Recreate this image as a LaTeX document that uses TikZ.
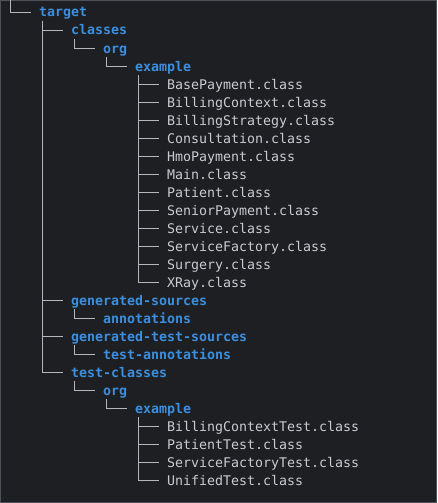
\documentclass[tikz,border=0pt]{standalone}
\usepackage{fontspec}
\newfontfamily\codefont{DejaVu Sans Mono}
\definecolor{bg}{HTML}{1E1F22}
\definecolor{frame}{HTML}{4E5157}
\definecolor{dirc}{HTML}{3D8EDC}
\definecolor{filec}{HTML}{C8CBD0}
\definecolor{linec}{HTML}{B4B7BC}
\begin{document}
\begin{tikzpicture}[x=1pt,y=-1pt,
  entry/.style={anchor=west,inner sep=0pt,outer sep=0pt,text height=13pt,text depth=3pt,
    font=\codefont\fontsize{13.3}{16}\selectfont},
  dir/.style={entry,text=dirc,font=\codefont\bfseries\fontsize{13.3}{16}\selectfont},
  file/.style={entry,text=filec},
  tree/.style={draw=linec,line width=0.9pt}]
\fill[bg] (0,0) rectangle (437,503);
\useasboundingbox (0,0) rectangle (437,503);
\draw[frame,line width=1pt] (0.5,0.5) rectangle (436.5,502.5);
\coordinate (root) at (10,0);
% nodes: x positions 39,71,103,135,167 ; row pitch 18 starting 12
\node[dir] (target) at (39,12) {target};
\node[dir] (classes) at (71,30) {classes};
\node[dir] (org1) at (103,48) {org};
\node[dir] (ex1) at (135,66) {example};
\node[file] (f1) at (167,84) {BasePayment.class};
\node[file] (f2) at (167,102) {BillingContext.class};
\node[file] (f3) at (167,120) {BillingStrategy.class};
\node[file] (f4) at (167,138) {Consultation.class};
\node[file] (f5) at (167,156) {HmoPayment.class};
\node[file] (f6) at (167,174) {Main.class};
\node[file] (f7) at (167,192) {Patient.class};
\node[file] (f8) at (167,210) {SeniorPayment.class};
\node[file] (f9) at (167,228) {Service.class};
\node[file] (f10) at (167,246) {ServiceFactory.class};
\node[file] (f11) at (167,264) {Surgery.class};
\node[file] (f12) at (167,282) {XRay.class};
\node[dir] (gens) at (71,300) {generated-sources};
\node[dir] (ann) at (103,318) {annotations};
\node[dir] (gents) at (71,336) {generated-test-sources};
\node[dir] (tann) at (103,354) {test-annotations};
\node[dir] (tcls) at (71,372) {test-classes};
\node[dir] (org2) at (103,390) {org};
\node[dir] (ex2) at (135,408) {example};
\node[file] (t1) at (167,426) {BillingContextTest.class};
\node[file] (t2) at (167,444) {PatientTest.class};
\node[file] (t3) at (167,462) {ServiceFactoryTest.class};
\node[file] (t4) at (167,480) {UnifiedTest.class};
% connectors
\draw[tree] (root) |- ([xshift=-8.5pt]target.west);
\foreach \c in {classes,gens,gents,tcls}
  \draw[tree] ([xshift=3pt,yshift=-9pt]target.west) |- ([xshift=-8.5pt]\c.west);
\draw[tree] ([xshift=3pt,yshift=-9pt]classes.west) |- ([xshift=-8.5pt]org1.west);
\draw[tree] ([xshift=3pt,yshift=-9pt]org1.west) |- ([xshift=-8.5pt]ex1.west);
\foreach \c in {f1,f2,f3,f4,f5,f6,f7,f8,f9,f10,f11,f12}
  \draw[tree] ([xshift=3pt,yshift=-9pt]ex1.west) |- ([xshift=-8.5pt]\c.west);
\draw[tree] ([xshift=3pt,yshift=-9pt]gens.west) |- ([xshift=-8.5pt]ann.west);
\draw[tree] ([xshift=3pt,yshift=-9pt]gents.west) |- ([xshift=-8.5pt]tann.west);
\draw[tree] ([xshift=3pt,yshift=-9pt]tcls.west) |- ([xshift=-8.5pt]org2.west);
\draw[tree] ([xshift=3pt,yshift=-9pt]org2.west) |- ([xshift=-8.5pt]ex2.west);
\foreach \c in {t1,t2,t3,t4}
  \draw[tree] ([xshift=3pt,yshift=-9pt]ex2.west) |- ([xshift=-8.5pt]\c.west);
\end{tikzpicture}
\end{document}
